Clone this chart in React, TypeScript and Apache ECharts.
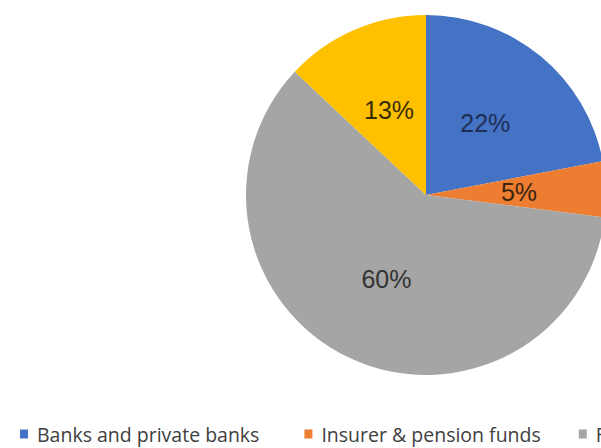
import React, { useEffect, useRef } from "react";
import * as echarts from "echarts";

const categories = [
  "Banks and private banks",
  "Insurer & pension funds",
  "Family offices",
  "Others",
];
const shares = [22, 5, 60, 13];
const colors = ["#4472C4", "#ED7D31", "#A5A5A5", "#FFC000"];
const labelColors = ["#1F2F55", "#3A2410", "#333333", "#3A2E05"];

export default function App() {
  const ref = useRef<HTMLDivElement>(null);
  useEffect(() => {
    if (!ref.current) return;
    const chart = echarts.init(ref.current, undefined, { renderer: "svg" });
    chart.setOption({
      animation: false,
      backgroundColor: "#ffffff",
      legend: {
        orient: "horizontal",
        left: 15,
        top: 419,
        padding: 5,
        width: 1400,
        itemWidth: 8,
        itemHeight: 9,
        itemGap: 38,
        icon: "rect",
        data: categories.map((name, i) =>
          i === 0
            ? { name, textStyle: { padding: [0, 7, 0, 4] } }
            : { name }
        ),
        textStyle: {
          fontFamily: "Open Sans",
          fontSize: 19.5,
          lineHeight: 20,
          color: "#404040",
          padding: [0, 0, 0, 4],
        },
      },
      series: [
        {
          type: "pie",
          center: [426, 195],
          radius: 180,
          startAngle: 90,
          clockwise: true,
          label: {
            show: true,
            position: "inside",
            fontFamily: "Liberation Sans",
            fontSize: 25,
            formatter: "{c}%",
          },
          labelLine: { show: false },
          emphasis: { disabled: true },
          itemStyle: { borderWidth: 0 },
          data: categories.map((name, i) => ({
            name,
            value: shares[i],
            itemStyle: { color: colors[i] },
            label: { color: labelColors[i] },
          })),
        },
      ],
    });
    return () => chart.dispose();
  }, []);
  return (
    <div
      ref={ref}
      style={{ position: "absolute", left: 0, top: 0, width: 601, height: 448 }}
    />
  );
}
